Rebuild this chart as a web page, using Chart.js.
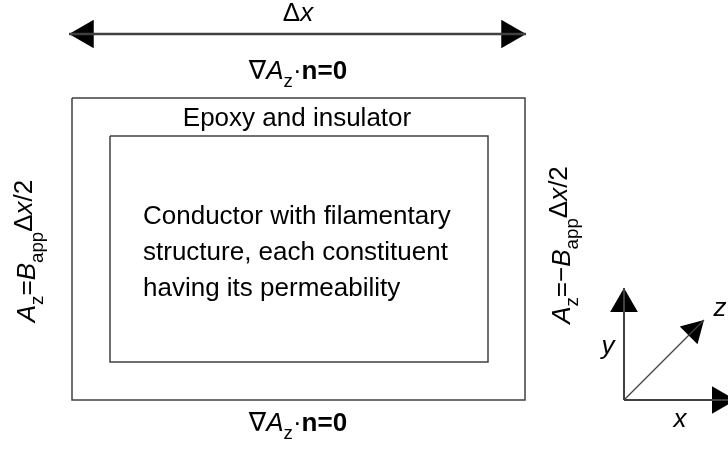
<!DOCTYPE html>
<html>
<head>
<meta charset="utf-8">
<script src="https://cdn.jsdelivr.net/npm/chart.js@4.4.1/dist/chart.umd.min.js"></script>
<style>
  html, body { margin: 0; padding: 0; background: #fff; }
  #wrap { width: 728px; height: 451px; }
</style>
</head>
<body>
<div id="wrap"><canvas id="diagram" width="728" height="451"></canvas></div>
<script>
// Geometry of the sketch, in page pixels (y grows downward)
const outerBox = [[72, 98], [525, 98], [525, 400], [72, 400], [72, 98]];
const innerBox = [[110, 136], [488, 136], [488, 362], [110, 362], [110, 136]];
const widthArrow = [[69, 34], [526, 34]];       // double-headed Δx arrow
const axisOrigin = [624, 400];
const axisTips = [[624, 288], [736, 400], [704, 320]];  // y, x, z

// Text runs: [text, style] where style is a space separated list of i, b, sub, up
const gradLabel = [['∇', ''], ['A', 'i'], ['z', 'sub'], ['·', ''], ['n=0', 'b']];
const deltaLabel = [['Δ', ''], ['x', 'i']];
const leftBc = [['A', 'i'], ['z', 'sub'], ['=', ''], ['B', 'i'], ['app', 'sub'], ['Δ', 'up'], ['x', 'up i'], ['/2', 'up']];
const rightBc = [['A', 'i'], ['z', 'sub'], ['=−', ''], ['B', 'i'], ['app', 'sub'], ['Δ', 'up'], ['x', 'up i'], ['/2', 'up']];
const regionTitle = [['Epoxy and insulator', '']];
const conductorLines = [
  'Conductor with filamentary',
  'structure, each constituent',
  'having its permeability'
];

const FONT = "'Liberation Sans', Arial, 'DejaVu Sans', sans-serif";
const LINE = '#404040';

// Where each text block sits: [runs, x, baseline y, rotation, align]
const textPlacements = [
  [deltaLabel, 298, 21, 0, 'center'],
  [gradLabel, 298, 79, 0, 'center'],
  [regionTitle, 297, 126, 0, 'center'],
  [[[conductorLines[0], '']], 143, 224, 0, 'left'],
  [[[conductorLines[1], '']], 143, 260, 0, 'left'],
  [[[conductorLines[2], '']], 143, 296, 0, 'left'],
  [gradLabel, 298, 431, 0, 'center'],
  [leftBc, 35, 251, -90, 'center'],
  [rightBc, 570, 245, -90, 'center'],
  [[['y', 'i']], 608, 354, 0, 'center'],
  [[['z', 'i']], 720, 316, 0, 'center'],
  [[['x', 'i']], 680, 427, 0, 'center']
];

const toXY = pts => pts.map(p => ({ x: p[0], y: p[1] }));

// Arrow head (triangle point) placed back from the tip so its apex lands on the tip
function headAt(from, tip, r) {
  const dx = tip[0] - from[0], dy = tip[1] - from[1];
  const len = Math.hypot(dx, dy);
  return {
    x: tip[0] - dx / len * r,
    y: tip[1] - dy / len * r,
    r: r,
    rot: Math.atan2(dx, -dy) * 180 / Math.PI
  };
}

const heads = [
  headAt(widthArrow[1], widthArrow[0], 16.5),
  headAt(widthArrow[0], widthArrow[1], 16.5),
  headAt(axisOrigin, axisTips[0], 16),
  headAt(axisOrigin, axisTips[1], 16),
  headAt(axisOrigin, axisTips[2], 14.5)
];

function runFont(style, size) {
  const f = style.split(' ');
  return (f.includes('i') ? 'italic ' : '') + (f.includes('b') ? 'bold ' : '') +
    (f.includes('sub') ? size * 0.72 : size) + 'px ' + FONT;
}

function runShift(style, size) {
  const f = style.split(' ');
  if (f.includes('sub')) return size * 0.3;
  if (f.includes('up')) return -size * 0.12;
  return 0;
}

function drawRuns(ctx, runs, x, y, rot, align, size) {
  ctx.save();
  ctx.translate(x, y);
  ctx.rotate(rot * Math.PI / 180);
  let total = 0;
  runs.forEach(r => { ctx.font = runFont(r[1], size); total += ctx.measureText(r[0]).width; });
  let cx = align === 'center' ? -total / 2 : 0;
  ctx.textBaseline = 'alphabetic';
  ctx.textAlign = 'left';
  ctx.fillStyle = '#000';
  runs.forEach(r => {
    ctx.font = runFont(r[1], size);
    ctx.fillText(r[0], cx, runShift(r[1], size));
    cx += ctx.measureText(r[0]).width;
  });
  ctx.restore();
}

const textPlugin = {
  id: 'diagramText',
  afterDraw(chart) {
    const ctx = chart.ctx;
    const sx = chart.scales.x, sy = chart.scales.y;
    textPlacements.forEach(t => {
      drawRuns(ctx, t[0], sx.getPixelForValue(t[1]), sy.getPixelForValue(t[2]), t[3], t[4], 26);
    });
  }
};

const lineSet = (pts, width) => ({
  data: toXY(pts),
  showLine: true,
  borderColor: LINE,
  borderWidth: width,
  pointRadius: 0,
  fill: false,
  tension: 0
});

new Chart(document.getElementById('diagram'), {
  type: 'scatter',
  data: {
    datasets: [
      lineSet(outerBox, 1.5),
      lineSet(innerBox, 1.5),
      lineSet(widthArrow, 2.5),
      lineSet([axisOrigin, axisTips[0]], 2),
      lineSet([axisOrigin, axisTips[1]], 2),
      lineSet([axisOrigin, axisTips[2]], 1.2),
      {
        data: heads.map(h => ({ x: h.x, y: h.y })),
        showLine: false,
        pointStyle: 'triangle',
        pointRadius: ctx => heads[ctx.dataIndex].r,
        pointRotation: ctx => heads[ctx.dataIndex].rot,
        pointBackgroundColor: '#000',
        pointBorderColor: '#000',
        pointBorderWidth: 0
      }
    ]
  },
  options: {
    responsive: false,
    animation: false,
    layout: { padding: 0, autoPadding: false },
    plugins: { legend: { display: false }, tooltip: { enabled: false } },
    scales: {
      x: { type: 'linear', min: 0, max: 728, display: false },
      y: { type: 'linear', min: 0, max: 451, reverse: true, display: false }
    }
  },
  plugins: [textPlugin]
});
</script>
</body>
</html>
